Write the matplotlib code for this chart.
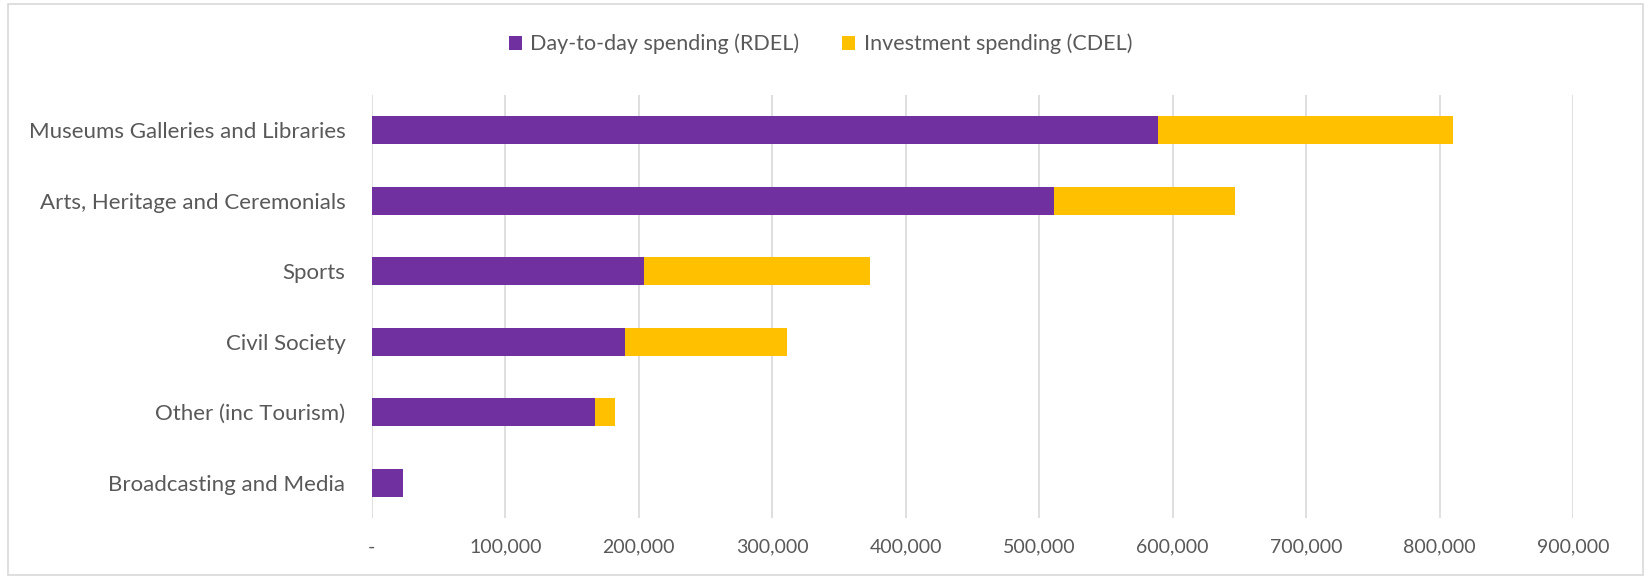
import matplotlib.pyplot as plt
import matplotlib.patches as patches
from matplotlib.ticker import FuncFormatter

# Spending by area
categories = ['Museums Galleries and Libraries', 'Arts, Heritage and Ceremonials', 'Sports',
              'Civil Society', 'Other (inc Tourism)', 'Broadcasting and Media']
rdel = [589000, 511000, 204000, 190000, 167000, 23000]
cdel = [221000, 136000, 169000, 121000, 15000, 600]
x_ticks = [0, 100000, 200000, 300000, 400000, 500000, 600000, 700000, 800000, 900000]

plt.rcParams['font.family'] = ['Lato', 'DejaVu Sans']
text_color = '#595959'

fig = plt.figure(figsize=(16.51, 5.80), dpi=100)
ax = fig.add_axes([0.2252, 0.107, 0.7276, 0.729])

# top category first
y = list(range(len(categories)))[::-1]
ax.barh(y, rdel, height=0.4, color='#7030A0', label='Day-to-day spending (RDEL)', zorder=3)
ax.barh(y, cdel, left=rdel, height=0.4, color='#FFC000', label='Investment spending (CDEL)', zorder=3)

ax.set_xlim(0, 900000)
ax.set_ylim(-0.5, 5.5)
ax.set_yticks(y)
ax.set_yticklabels(categories)
ax.set_xticks(x_ticks)
ax.xaxis.set_major_formatter(FuncFormatter(lambda v, p: '-' if v == 0 else f'{int(v):,}'))
ax.tick_params(axis='x', length=0, pad=15, labelsize=14, labelcolor=text_color)
ax.tick_params(axis='y', length=0, pad=19, labelsize=16, labelcolor=text_color)
ax.grid(axis='x', color='#D9D9D9', linewidth=1.2, zorder=0)
for s in ax.spines.values():
    s.set_visible(False)

fig.legend(loc='center', bbox_to_anchor=(0.497, 0.924), ncol=2, frameon=False,
           fontsize=15.5, labelcolor=text_color, handlelength=0.6, handleheight=0.6,
           handletextpad=0.4, columnspacing=2.0)

# light border around the chart area
fig.patches.append(patches.Rectangle((0.005, 0.008), 0.99, 0.985, transform=fig.transFigure,
                                     fill=False, edgecolor='#D9D9D9', linewidth=1.2))

plt.savefig('out.png', dpi=100)
